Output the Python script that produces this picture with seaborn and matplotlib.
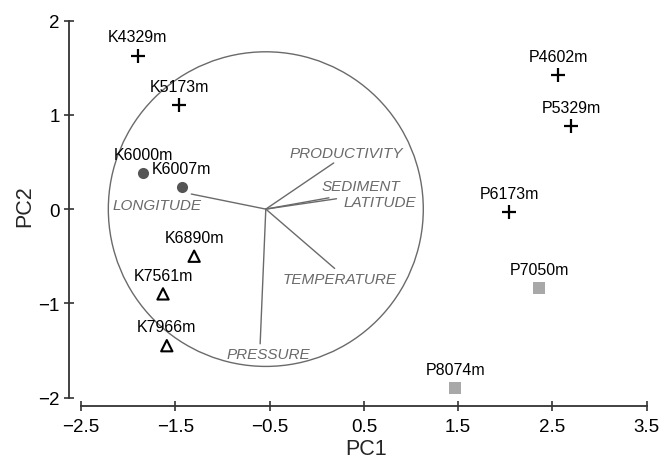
import numpy as np
import pandas as pd
import matplotlib
matplotlib.use("Agg")
import matplotlib.pyplot as plt
import seaborn as sns
from matplotlib.patches import Circle

# sites (PCA scores)
sites = ["K4329m", "K5173m", "K6000m", "K6007m", "K6890m", "K7561m", "K7966m",
         "P4602m", "P5329m", "P6173m", "P7050m", "P8074m"]
pc1 = [-1.90, -1.46, -1.84, -1.43, -1.30, -1.63, -1.59, 2.56, 2.70, 2.04, 2.36, 1.47]
pc2 = [1.63, 1.10, 0.38, 0.23, -0.50, -0.90, -1.45, 1.42, 0.88, -0.03, -0.84, -1.90]
grupo = ["cruz", "cruz", "circulo", "circulo", "triangulo", "triangulo", "triangulo",
         "cruz", "cruz", "cruz", "cuadrado", "cuadrado"]

# variables ambientales (vectores)
variables = ["PRODUCTIVITY", "SEDIMENT", "LATITUDE", "TEMPERATURE", "PRESSURE", "LONGITUDE"]
vec_x = [0.18, 0.13, 0.21, 0.19, -0.60, -1.33]
vec_y = [0.49, 0.12, 0.11, -0.63, -1.43, 0.16]
origen = (-0.54, 0.0)
radio = 1.67

# posiciones de las etiquetas de los vectores
lab_x = [0.31, 0.464, 0.671, 0.247, -0.517, -1.694]
lab_y = [0.595, 0.244, 0.074, -0.743, -1.54, 0.046]

df = pd.DataFrame({"sitio": sites, "PC1": pc1, "PC2": pc2, "grupo": grupo})

sns.set_style("white")
plt.rcParams["font.family"] = ["Liberation Sans", "DejaVu Sans"]

fig = plt.figure(figsize=(6.62, 4.60), dpi=100)
ax = fig.add_axes([69 / 662, 53.3 / 460, 582.5 / 662, 389.7 / 460])

gris = "#6a6a6a"

# circulo y vectores
ax.add_patch(Circle(origen, radio, fill=False, edgecolor=gris, linewidth=1.0, zorder=1))
for v, x, y, lx, ly in zip(variables, vec_x, vec_y, lab_x, lab_y):
    ax.plot([origen[0], x], [origen[1], y], color=gris, linewidth=1.0, zorder=1)
    ax.text(lx, ly, v, color=gris, fontsize=11, fontstyle="italic",
            ha="center", va="center")

# puntos por grupo
sub = df[df["grupo"] == "cruz"]
sns.scatterplot(data=sub, x="PC1", y="PC2", marker="+", s=90, color="black",
                linewidth=1.6, ax=ax, zorder=3)
sub = df[df["grupo"] == "circulo"]
sns.scatterplot(data=sub, x="PC1", y="PC2", marker="o", s=64, color="#555555",
                linewidth=0, ax=ax, zorder=3)
sub = df[df["grupo"] == "triangulo"]
sns.scatterplot(data=sub, x="PC1", y="PC2", marker="^", s=66, color="black",
                facecolor="none", edgecolor="black", linewidth=1.5, ax=ax, zorder=3)
sub = df[df["grupo"] == "cuadrado"]
sns.scatterplot(data=sub, x="PC1", y="PC2", marker="s", s=70, color="#a8a8a8",
                linewidth=0, ax=ax, zorder=3)

for _, row in df.iterrows():
    ax.annotate(row["sitio"], (row["PC1"], row["PC2"]), xytext=(0, 13.5),
                textcoords="offset points", ha="center", va="center",
                fontsize=11.5, color="black")

ax.set_xlim(-2.627, 3.55)
ax.set_ylim(-2.087, 2.05)
ax.set_xticks([-2.5, -1.5, -0.5, 0.5, 1.5, 2.5, 3.5])
ax.set_xticklabels(["−2.5", "−1.5", "−0.5", "0.5", "1.5", "2.5", "3.5"])
ax.set_yticks([-2, -1, 0, 1, 2])

for s in ["top", "right"]:
    ax.spines[s].set_visible(False)
ax.spines["left"].set_bounds(-2, 2)
ax.spines["bottom"].set_bounds(-2.5, 3.5)
for s in ["left", "bottom"]:
    ax.spines[s].set_color("#333333")
    ax.spines[s].set_linewidth(1.3)

ax.tick_params(direction="inout", length=7, width=1.2, color="#333333",
               labelsize=13.5, labelcolor="black", bottom=True, left=True)
ax.tick_params(axis="x", pad=5.5)
ax.tick_params(axis="y", pad=3)

ax.set_xlabel("PC1", fontsize=15.5)
ax.set_ylabel("PC2", fontsize=15.5)
ax.xaxis.set_label_coords(0.51, -0.083)
ax.yaxis.set_label_coords(-0.058, 0.515)

fig.savefig("out.png", dpi=100)
